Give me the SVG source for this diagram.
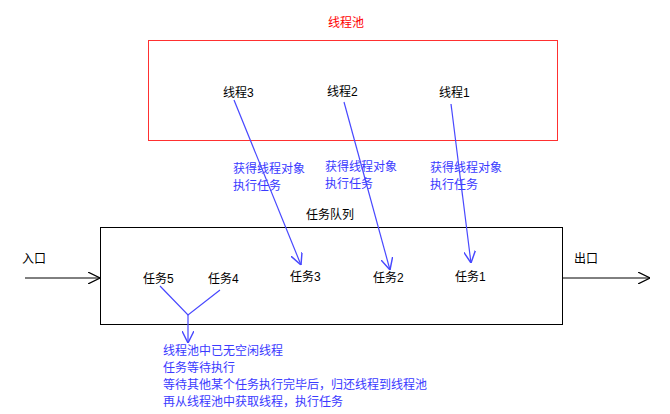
<svg xmlns="http://www.w3.org/2000/svg" width="670" height="414" viewBox="0 0 670 414">
<style>
text{font-family:"Liberation Sans","Noto Sans CJK SC",sans-serif;font-size:12px;fill:#000}
.b{fill:#3a3aff}
.r{fill:#ff0000}
.bl{stroke:#4848ff;stroke-width:1.2;fill:none}
.k{stroke:#000;stroke-width:1;fill:none}
</style>
<defs>
<marker id="va" viewBox="0 0 10 10" refX="10" refY="5" markerWidth="12" markerHeight="12" markerUnits="userSpaceOnUse" orient="auto"><path d="M0,0 L10,5 L0,10" fill="none" stroke="#4848ff" stroke-width="1.2"/></marker>
<marker id="ka" viewBox="0 0 10 10" refX="10" refY="5" markerWidth="12" markerHeight="12" markerUnits="userSpaceOnUse" orient="auto"><path d="M0,0 L10,5 L0,10" fill="none" stroke="#000" stroke-width="1"/></marker>
</defs>
<rect width="670" height="414" fill="#fff"/>
<g id="pool"><rect x="148.5" y="40.5" width="409" height="100" fill="none" stroke="#ff3030"/><text class="r" x="328" y="27">线程池</text></g>
<g id="t3"><text x="223" y="97">线程3</text></g>
<g id="t2"><text x="327" y="96">线程2</text></g>
<g id="t1"><text x="439" y="97">线程1</text></g>
<g id="queue"><rect x="100.5" y="227.5" width="462" height="97" fill="none" stroke="#000"/><text x="306" y="219">任务队列</text></g>
<g id="j5"><text x="143" y="283">任务5</text></g>
<g id="j4"><text x="208" y="283">任务4</text></g>
<g id="j3"><text x="290" y="281">任务3</text></g>
<g id="j2"><text x="373" y="282">任务2</text></g>
<g id="j1"><text x="455" y="281">任务1</text></g>
<g id="in"><text x="22" y="263">入口</text></g>
<g id="out"><text x="574" y="263">出口</text></g>
<g id="labels">
<text class="b" x="233" y="173">获得线程对象</text><text class="b" x="233" y="190">执行任务</text>
<text class="b" x="325" y="171">获得线程对象</text><text class="b" x="325" y="188">执行任务</text>
<text class="b" x="430" y="172">获得线程对象</text><text class="b" x="430" y="189">执行任务</text>
<text class="b" x="163" y="355">线程池中已无空闲线程</text>
<text class="b" x="163" y="372">任务等待执行</text>
<text class="b" x="163" y="389">等待其他某个任务执行完毕后，归还线程到线程池</text>
<text class="b" x="163" y="406">再从线程池中获取线程，执行任务</text>
</g>
<g id="connectors">
<line class="bl" x1="234" y1="100" x2="301" y2="265" marker-end="url(#va)"/>
<line class="bl" x1="344" y1="102" x2="390" y2="270" marker-end="url(#va)"/>
<line class="bl" x1="451" y1="104" x2="471" y2="263" marker-end="url(#va)"/>
<polyline class="bl" points="160,286 188,315 220,290"/>
<line class="bl" x1="188" y1="315" x2="188" y2="343" marker-end="url(#va)"/>
<line class="k" x1="25" y1="278" x2="100" y2="278" marker-end="url(#ka)"/>
<line class="k" x1="562" y1="278" x2="650" y2="278" marker-end="url(#ka)"/>
</g>
</svg>
